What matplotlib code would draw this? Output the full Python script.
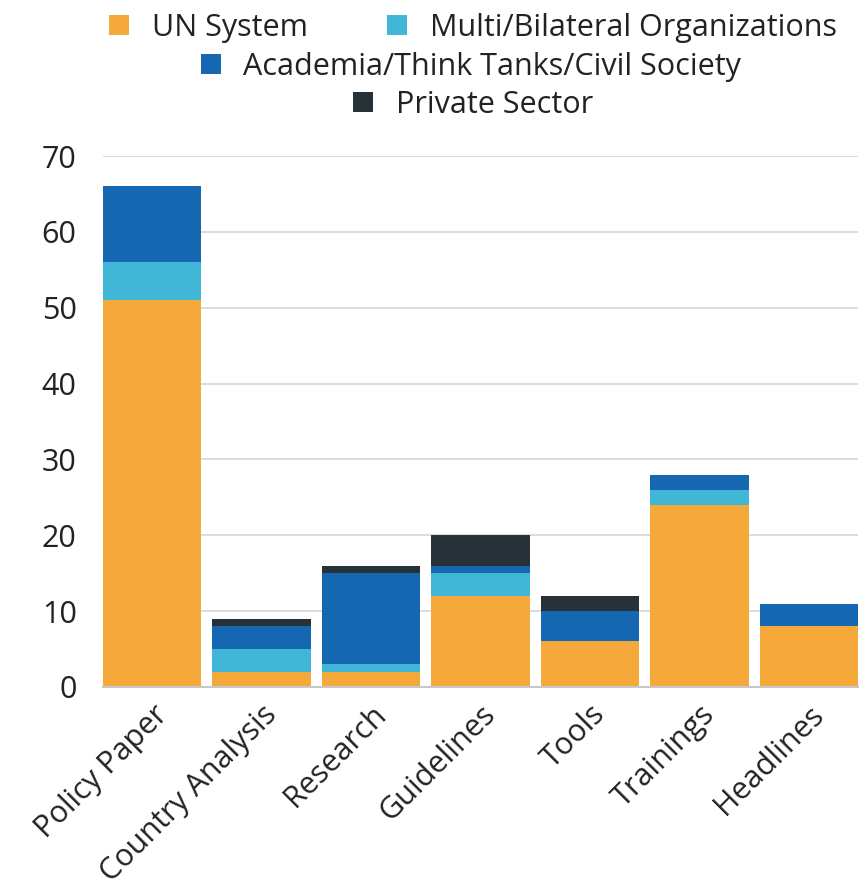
import matplotlib.pyplot as plt
import numpy as np

plt.rcParams['font.family'] = ['Open Sans', 'DejaVu Sans']

categories = ["Policy Paper", "Country Analysis", "Research", "Guidelines",
              "Tools", "Trainings", "Headlines"]
un_system = [51, 2, 2, 12, 6, 24, 8]
multi_bilateral = [5, 3, 1, 3, 0, 2, 0]
academia = [10, 3, 12, 1, 4, 2, 3]
private_sector = [0, 1, 1, 4, 2, 0, 0]

series = [
    ("UN System", un_system, "#F4A93A"),
    ("Multi/Bilateral Organizations", multi_bilateral, "#41B6D6"),
    ("Academia/Think Tanks/Civil Society", academia, "#1467B0"),
    ("Private Sector", private_sector, "#263238"),
]

fig = plt.figure(figsize=(8.66, 8.94), dpi=100)
ax = fig.add_axes([103 / 866, 1 - 687 / 894, 755 / 866, 531 / 894])

width = 0.9
x = np.arange(len(categories))
bottom = np.zeros(len(categories))
handles = []
for name, vals, col in series:
    b = ax.bar(x, vals, width, bottom=bottom, color=col, label=name,
               edgecolor="none", zorder=3)
    handles.append(b)
    bottom += np.array(vals)

ax.set_xlim(-width / 2, len(categories) - 1 + width / 2)
ax.set_ylim(0, 70)
ax.set_yticks(range(0, 71, 10))
ax.grid(axis="y", color="#dcdcdc", linewidth=1.4, zorder=0)
for s in ["top", "right", "left"]:
    ax.spines[s].set_visible(False)
ax.spines["bottom"].set_color("#c8c8c8")
ax.spines["bottom"].set_linewidth(1.5)
ax.spines["bottom"].set_zorder(4)
ax.tick_params(axis="y", length=0, pad=19, labelsize=22, labelcolor="#222222")
ax.tick_params(axis="x", length=0, pad=9, labelsize=22, labelcolor="#222222")
ax.set_xticks(x)
ax.set_xticklabels(categories, rotation=45, ha="right", va="top",
                   rotation_mode="anchor")

leg_kw = dict(frameon=False, fontsize=22, handlelength=0.65, handleheight=0.65,
              handletextpad=0.75, columnspacing=2.6, borderaxespad=0,
              labelcolor="#222222")
leg1 = fig.legend(handles[:2], [s[0] for s in series[:2]], ncol=2,
                  loc="center", bbox_to_anchor=(473 / 866, 1 - 28 / 894), **leg_kw)
leg2 = fig.legend(handles[2:3], [series[2][0]], loc="center",
                  bbox_to_anchor=(471 / 866, 1 - 67 / 894), **leg_kw)
leg3 = fig.legend(handles[3:], [series[3][0]], loc="center",
                  bbox_to_anchor=(473 / 866, 1 - 105 / 894), **leg_kw)

fig.savefig("out.png", dpi=100)
